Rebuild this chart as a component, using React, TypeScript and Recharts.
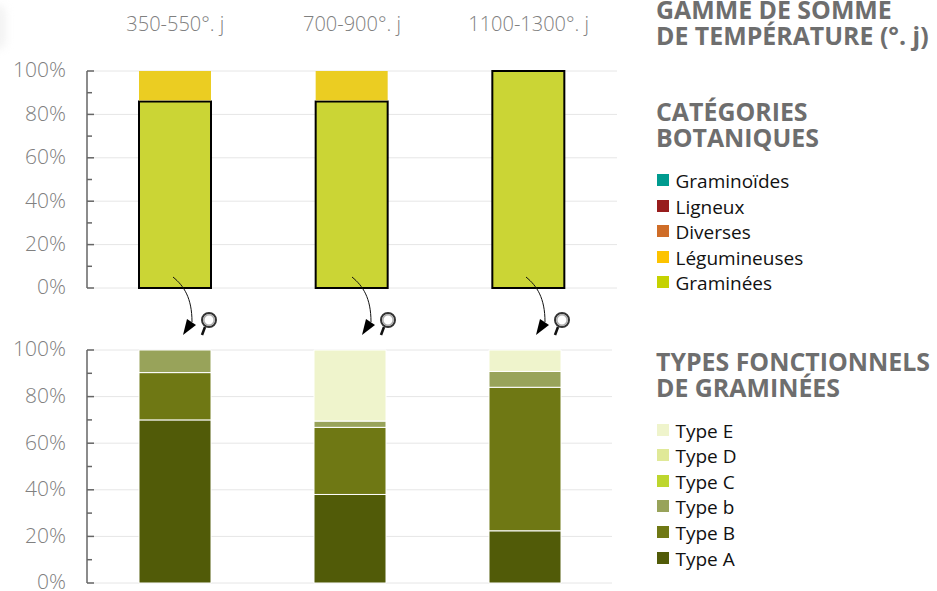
import React from 'react'
import { BarChart, Bar, XAxis, YAxis, CartesianGrid } from 'recharts'

const periods = ['350-550°. j', '700-900°. j', '1100-1300°. j']
const gridTicks = [0, 20, 40, 60, 80, 100]
const allTicks = [0, 10, 20, 30, 40, 50, 60, 70, 80, 90, 100]

// catégories botaniques
const graminees = [86, 86, 100]
const legumineuses = [14, 14, 0]

// types fonctionnels de graminées
const typeA = [70, 38, 22.4]
const typeB = [20.3, 28.8, 61.6]
const typeSmallB = [9.7, 2.7, 6.8]
const typeE = [0, 30.5, 9.2]

const botanicalLegend = [
  { label: 'Graminoïdes', color: '#009b8f' },
  { label: 'Ligneux', color: '#981d1d' },
  { label: 'Diverses', color: '#cf6d28' },
  { label: 'Légumineuses', color: '#fdc300' },
  { label: 'Graminées', color: '#c5d200' },
]
const typesLegend = [
  { label: 'Type E', color: '#eff4cc' },
  { label: 'Type D', color: '#e0e998' },
  { label: 'Type C', color: '#bdd62e' },
  { label: 'Type b', color: '#98a35a' },
  { label: 'Type B', color: '#6f7814' },
  { label: 'Type A', color: '#515b08' },
]

const topData = periods.map((period, i) => ({
  period,
  graminees: graminees[i],
  legumineuses: legumineuses[i],
}))
const bottomData = periods.map((period, i) => ({
  period,
  typeA: typeA[i],
  typeB: typeB[i],
  typeSmallB: typeSmallB[i],
  typeE: typeE[i],
}))

const FONT = '"Open Sans", sans-serif'
const HEAD_COLOR = '#6e6e6e'

// graduations vers l'intérieur, libellé seulement tous les 20 %
function PercentTick({ x, y, payload }: any) {
  const major = payload.value % 20 === 0
  return (
    <g>
      <line x1={x} x2={x + (major ? 7 : 5)} y1={y} y2={y} stroke="#666" strokeWidth={1.5} />
      {major && (
        <text
          x={x - 21}
          y={y}
          dy="0.3em"
          textAnchor="end"
          fontFamily={FONT}
          fontSize={21}
          fontWeight={300}
          fill="#808080"
        >
          {payload.value}%
        </text>
      )}
    </g>
  )
}

// le jaune s'arrête juste au-dessus du contour noir des graminées
function TopSegment({ x, y, width, height, fill }: any) {
  if (!height) return null
  return <rect x={x} y={y} width={width} height={Math.max(height - 1, 0)} fill={fill} />
}

function Heading({ top, lines }: { top: number; lines: string[] }) {
  return (
    <div
      style={{
        position: 'absolute',
        left: 656,
        top,
        fontFamily: FONT,
        fontWeight: 700,
        fontSize: 24.9,
        lineHeight: '26px',
        color: HEAD_COLOR,
        whiteSpace: 'nowrap',
      }}
    >
      {lines.map((l) => (
        <div key={l}>{l}</div>
      ))}
    </div>
  )
}

function LegendList({ top, items, step }: { top: number; items: { label: string; color: string }[]; step: number }) {
  return (
    <div style={{ position: 'absolute', left: 657, top }}>
      {items.map((item, i) => (
        <div key={item.label} style={{ position: 'absolute', top: i * step, left: 0, whiteSpace: 'nowrap' }}>
          <div style={{ position: 'absolute', left: 0, top: 0, width: 12, height: 12, background: item.color }} />
          <div
            style={{
              position: 'absolute',
              left: 18.5,
              top: -6,
              fontFamily: FONT,
              fontSize: 19,
              lineHeight: '26px',
              color: '#111',
            }}
          >
            {item.label}
          </div>
        </div>
      ))}
    </div>
  )
}

// flèche courbe + loupe, entre les deux graphiques
function Zoomer({ x }: { x: number }) {
  return (
    <g transform={`translate(${x} 0)`}>
      <path d="M0 277 C11 286 19 298 19 322" fill="none" stroke="#111" strokeWidth={1} />
      <path d="M10 335 L23 325 L14 319 Z" fill="#000" />
      <path d="M32 327 L29 335" stroke="#111" strokeWidth={2.5} />
      <circle cx={36} cy={320} r={7} fill="#fff" stroke="#333" strokeWidth={2} />
      <circle cx={36} cy={320} r={5.2} fill="none" stroke="#aaa" strokeWidth={1.5} />
    </g>
  )
}

export default function App() {
  return (
    <div style={{ position: 'absolute', left: 0, top: 0, width: 937, height: 591, overflow: 'hidden', background: '#fff' }}>
      <div
        style={{
          position: 'absolute',
          left: -14,
          top: 4,
          width: 20,
          height: 46,
          borderRadius: 10,
          background: '#f3f3f3',
          filter: 'blur(4px)',
        }}
      />

      <div style={{ position: 'absolute', left: 0, top: 0 }}>
        <BarChart
          width={640}
          height={300}
          data={topData}
          barCategoryGap={0}
          margin={{ top: 0, right: 23, bottom: 12, left: 0 }}
        >
          <CartesianGrid vertical={false} stroke="#e6e6e6" strokeWidth={1} horizontalValues={gridTicks} />
          <XAxis
            dataKey="period"
            orientation="top"
            height={71}
            axisLine={false}
            tickLine={false}
            tickSize={0}
            tickMargin={40}
            interval={0}
            tick={{ fontFamily: FONT, fontSize: 20, fontWeight: 300, fill: '#808080' }}
          />
          <YAxis
            type="number"
            domain={[0, 100]}
            ticks={allTicks}
            width={87}
            interval={0}
            axisLine={{ stroke: '#666', strokeWidth: 1.5 }}
            tickLine={false}
            tickSize={0}
            tickMargin={0}
            tick={PercentTick}
          />
          <Bar dataKey="graminees" stackId="a" fill="#cbd535" stroke="#000" strokeWidth={2} barSize={72} isAnimationActive={false} />
          <Bar dataKey="legumineuses" stackId="a" fill="#ebcd22" barSize={72} shape={TopSegment} isAnimationActive={false} />
        </BarChart>
      </div>

      <div style={{ position: 'absolute', left: 0, top: 300 }}>
        <BarChart
          width={640}
          height={291}
          data={bottomData}
          barCategoryGap={0}
          margin={{ top: 50, right: 28, bottom: 8, left: 0 }}
        >
          <CartesianGrid vertical={false} stroke="#e6e6e6" strokeWidth={1} horizontalValues={gridTicks} />
          <XAxis dataKey="period" hide />
          <YAxis
            type="number"
            domain={[0, 100]}
            ticks={allTicks}
            width={87}
            interval={0}
            axisLine={{ stroke: '#666', strokeWidth: 1.5 }}
            tickLine={false}
            tickSize={0}
            tickMargin={0}
            tick={PercentTick}
          />
          <Bar dataKey="typeA" stackId="b" fill="#515b08" stroke="#fff" strokeWidth={1} barSize={72} isAnimationActive={false} />
          <Bar dataKey="typeB" stackId="b" fill="#6f7814" stroke="#fff" strokeWidth={1} barSize={72} isAnimationActive={false} />
          <Bar dataKey="typeSmallB" stackId="b" fill="#98a35a" stroke="#fff" strokeWidth={1} barSize={72} isAnimationActive={false} />
          <Bar dataKey="typeE" stackId="b" fill="#eff4cc" stroke="#fff" strokeWidth={1} barSize={72} isAnimationActive={false} />
        </BarChart>
      </div>

      <svg width={937} height={591} style={{ position: 'absolute', left: 0, top: 0, pointerEvents: 'none' }}>
        <Zoomer x={173} />
        <Zoomer x={352} />
        <Zoomer x={526} />
      </svg>

      <Heading top={-4} lines={['GAMME DE SOMME', 'DE TEMPÉRATURE (°. j)']} />
      <Heading top={98} lines={['CATÉGORIES', 'BOTANIQUES']} />
      <LegendList top={174} items={botanicalLegend} step={25.5} />
      <Heading top={348} lines={['TYPES FONCTIONNELS', 'DE GRAMINÉES']} />
      <LegendList top={423.5} items={typesLegend} step={25.6} />
    </div>
  )
}
